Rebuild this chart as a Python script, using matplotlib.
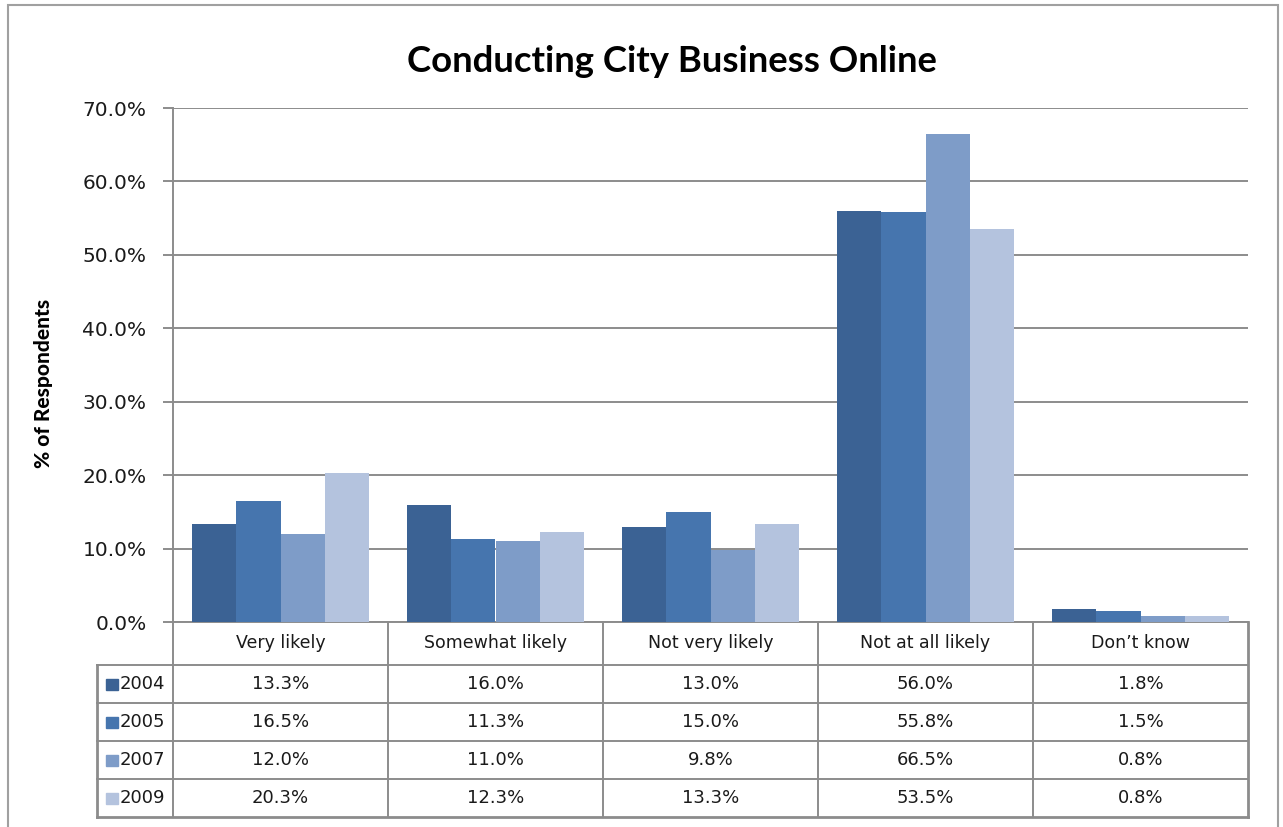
import matplotlib.pyplot as plt
from matplotlib.transforms import blended_transform_factory
from matplotlib.patches import Rectangle

# data
categories = ['Very likely', 'Somewhat likely', 'Not very likely',
              'Not at all likely', 'Don\u2019t know']
years = ['2004', '2005', '2007', '2009']
v2004 = [13.3, 16.0, 13.0, 56.0, 1.8]
v2005 = [16.5, 11.3, 15.0, 55.8, 1.5]
v2007 = [12.0, 11.0, 9.8, 66.5, 0.8]
v2009 = [20.3, 12.3, 13.3, 53.5, 0.8]
series = [v2004, v2005, v2007, v2009]
colors = ['#3b6294', '#4675ae', '#7e9cc8', '#b4c3de']

W, H = 1283, 827
grey = '#8c8c8c'

fig = plt.figure(figsize=(W / 100, H / 100), dpi=100)

# outer chart frame
fig.patches.append(Rectangle((8 / W, -0.01), (1278 - 8) / W, 1 - 5 / H + 0.01,
                             transform=fig.transFigure, fill=False,
                             ec='#a0a0a0', lw=1.5))

ax = fig.add_axes([173 / W, 1 - 622 / H, (1248 - 173) / W, (622 - 108) / H])

x = list(range(len(categories)))
bw = 0.205
for i, vals in enumerate(series):
    ax.bar([k + (i - 1.5) * bw for k in x], vals, width=bw,
           color=colors[i], zorder=3)

ax.set_xlim(-0.5, len(categories) - 0.5)
ax.set_ylim(0, 70)
yt = list(range(0, 71, 10))
ax.set_yticks(yt)
ax.set_yticklabels(['%.1f%%' % v for v in yt])
ax.set_xticks([])
ax.yaxis.grid(True, color=grey, lw=1.4)
ax.set_axisbelow(True)
for s in ['top', 'right', 'bottom']:
    ax.spines[s].set_visible(False)
ax.spines['left'].set_color(grey)
ax.spines['left'].set_linewidth(1.4)
ax.tick_params(axis='y', length=7, width=1.4, color=grey, pad=12,
               labelsize=14.5, labelcolor='#1a1a1a')

fig.text(672 / W, 1 - 61 / H, 'Conducting City Business Online',
         ha='center', va='center', fontsize=26.3, fontweight='bold',
         family='Lato')
fig.text(44 / W, 1 - 383 / H, '% of Respondents', rotation=90,
         ha='center', va='center', fontsize=15, fontweight='black',
         family='Lato')

# data table under the plot
tr = blended_transform_factory(ax.transData, ax.transAxes)
rows_px = [622, 665, 703, 741, 779, 817]
ry = [(622 - p) / (622 - 108) for p in rows_px]
unit = (1248 - 173) / len(categories)
xl = -0.5 - (173 - 97) / unit
xr = len(categories) - 0.5

def hline(x0, x1, y, lw=1.4):
    ax.plot([x0, x1], [y, y], color=grey, lw=lw, transform=tr,
            clip_on=False, solid_capstyle='projecting')

def vline(xx, y0, y1, lw=1.4):
    ax.plot([xx, xx], [y0, y1], color=grey, lw=lw, transform=tr,
            clip_on=False, solid_capstyle='projecting')

hline(-0.5, xr, ry[0])
for y in ry[1:-1]:
    hline(xl, xr, y)
hline(xl, xr, ry[-1], lw=2)
for k in range(len(categories) + 1):
    vline(k - 0.5, ry[0], ry[-1], lw=2 if k == len(categories) else 1.4)
vline(xl, ry[1], ry[-1], lw=2)

for k, c in enumerate(categories):
    ax.text(k, (ry[0] + ry[1]) / 2, c, transform=tr, ha='center',
            va='center', fontsize=12.5, color='#1a1a1a')

sq_w = 12 / unit
sq_h = 11 / (622 - 108)
for i, yr in enumerate(years):
    yc = (ry[i + 1] + ry[i + 2]) / 2
    ax.add_patch(Rectangle((xl + 9 / unit, yc - sq_h / 2), sq_w, sq_h,
                           color=colors[i], transform=tr, clip_on=False))
    ax.text(xl + 23 / unit, yc, yr, transform=tr, ha='left', va='center',
            fontsize=13, color='#1a1a1a')
    for k, v in enumerate(series[i]):
        ax.text(k, yc, '%.1f%%' % v, transform=tr, ha='center',
                va='center', fontsize=13, color='#1a1a1a')

fig.savefig('out.png', dpi=100)
